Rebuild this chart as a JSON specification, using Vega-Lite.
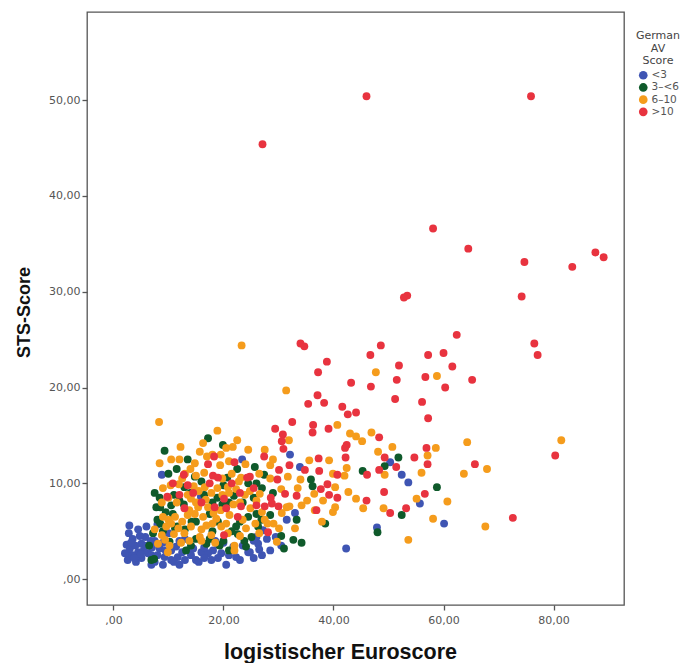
{
  "$schema": "https://vega.github.io/schema/vega-lite/v6.json",
  "width": 537,
  "height": 593,
  "autosize": {"type": "none"},
  "padding": {"left": 87, "top": 12, "right": 62, "bottom": 58},
  "background": "white",
  "config": {
    "view": {"stroke": "#555555", "strokeWidth": 1.3},
    "font": "DejaVu Sans"
  },
  "datasets": {
    "pts": [
      {"x":55.7,"y":7.9,"g":"<3"},{"x":60.1,"y":5.8,"g":"<3"},{"x":32.1,"y":13.0,"g":"<3"},{"x":50.3,"y":12.2,"g":"<3"},{"x":33.9,"y":11.7,"g":"<3"},{"x":52.4,"y":10.9,"g":"<3"},{"x":53.6,"y":10.1,"g":"<3"},{"x":33.0,"y":6.9,"g":"<3"},{"x":31.5,"y":6.2,"g":"<3"},{"x":27.2,"y":5.1,"g":"<3"},{"x":47.9,"y":5.4,"g":"<3"},{"x":26.0,"y":4.4,"g":"<3"},{"x":27.9,"y":4.2,"g":"<3"},{"x":24.8,"y":2.8,"g":"<3"},{"x":42.3,"y":3.2,"g":"<3"},{"x":23.4,"y":12.5,"g":"<3"},{"x":8.8,"y":10.9,"g":"<3"},{"x":15.9,"y":8.6,"g":"<3"},{"x":2.9,"y":5.6,"g":"<3"},{"x":6.0,"y":5.5,"g":"<3"},{"x":8.0,"y":5.7,"g":"<3"},{"x":3.5,"y":4.2,"g":"<3"},{"x":5.1,"y":3.7,"g":"<3"},{"x":26.3,"y":3.7,"g":"<3"},{"x":2.6,"y":2.7,"g":"<3"},{"x":4.5,"y":2.8,"g":"<3"},{"x":6.3,"y":2.7,"g":"<3"},{"x":8.4,"y":3.2,"g":"<3"},{"x":11.4,"y":3.4,"g":"<3"},{"x":13.5,"y":3.0,"g":"<3"},{"x":16.0,"y":2.8,"g":"<3"},{"x":18.1,"y":3.0,"g":"<3"},{"x":19.6,"y":2.7,"g":"<3"},{"x":24.5,"y":2.8,"g":"<3"},{"x":2.6,"y":2.0,"g":"<3"},{"x":4.1,"y":1.8,"g":"<3"},{"x":7.5,"y":1.8,"g":"<3"},{"x":9.3,"y":2.3,"g":"<3"},{"x":11.7,"y":2.3,"g":"<3"},{"x":14.1,"y":2.5,"g":"<3"},{"x":17.2,"y":2.7,"g":"<3"},{"x":22.3,"y":2.3,"g":"<3"},{"x":6.9,"y":1.5,"g":"<3"},{"x":20.5,"y":1.5,"g":"<3"},{"x":3.5,"y":2.5,"g":"<3"},{"x":2.1,"y":2.7,"g":"<3"},{"x":6.9,"y":2.5,"g":"<3"},{"x":5.1,"y":2.2,"g":"<3"},
      {"x":3.0,"y":3.2,"g":"<3"},{"x":4.0,"y":3.5,"g":"<3"},{"x":5.5,"y":3.0,"g":"<3"},{"x":7.0,"y":3.3,"g":"<3"},{"x":9.5,"y":3.0,"g":"<3"},{"x":10.5,"y":2.0,"g":"<3"},{"x":12.5,"y":2.8,"g":"<3"},{"x":15.0,"y":2.0,"g":"<3"},{"x":16.5,"y":3.3,"g":"<3"},{"x":19.0,"y":2.2,"g":"<3"},{"x":21.0,"y":2.5,"g":"<3"},{"x":23.5,"y":3.5,"g":"<3"},{"x":25.5,"y":2.2,"g":"<3"},{"x":28.5,"y":3.0,"g":"<3"},{"x":30.5,"y":3.5,"g":"<3"},{"x":5.8,"y":4.4,"g":"<3"},{"x":7.5,"y":4.0,"g":"<3"},{"x":10.0,"y":4.8,"g":"<3"},{"x":13.0,"y":4.2,"g":"<3"},{"x":18.5,"y":4.0,"g":"<3"},{"x":4.5,"y":5.2,"g":"<3"},{"x":12.0,"y":1.5,"g":"<3"},{"x":2.4,"y":3.6,"g":"<3"},{"x":9.0,"y":1.5,"g":"<3"},{"x":15.5,"y":1.8,"g":"<3"},{"x":20.0,"y":3.8,"g":"<3"},{"x":27.0,"y":2.5,"g":"<3"},
      {"x":3.8,"y":2.2,"g":"<3"},{"x":5.0,"y":2.6,"g":"<3"},{"x":6.0,"y":3.5,"g":"<3"},{"x":8.0,"y":2.5,"g":"<3"},{"x":9.0,"y":3.8,"g":"<3"},{"x":10.5,"y":3.0,"g":"<3"},{"x":11.0,"y":1.8,"g":"<3"},{"x":13.0,"y":2.0,"g":"<3"},{"x":14.5,"y":3.2,"g":"<3"},{"x":16.5,"y":2.2,"g":"<3"},{"x":17.8,"y":2.0,"g":"<3"},{"x":3.2,"y":3.8,"g":"<3"},{"x":4.8,"y":4.5,"g":"<3"},{"x":2.8,"y":4.8,"g":"<3"},{"x":6.8,"y":4.0,"g":"<3"},{"x":12.0,"y":4.0,"g":"<3"},{"x":19.0,"y":3.6,"g":"<3"},{"x":21.8,"y":3.4,"g":"<3"},{"x":23.0,"y":2.0,"g":"<3"},{"x":26.5,"y":3.1,"g":"<3"},{"x":29.5,"y":4.4,"g":"<3"},{"x":25.5,"y":4.0,"g":"<3"},
      {"x":58.8,"y":9.6,"g":"3–<6"},{"x":51.8,"y":12.7,"g":"3–<6"},{"x":49.3,"y":11.8,"g":"3–<6"},{"x":25.7,"y":11.7,"g":"3–<6"},{"x":27.4,"y":10.9,"g":"3–<6"},{"x":45.3,"y":11.3,"g":"3–<6"},{"x":35.9,"y":10.4,"g":"3–<6"},{"x":36.2,"y":9.7,"g":"3–<6"},{"x":52.4,"y":6.7,"g":"3–<6"},{"x":26.0,"y":6.8,"g":"3–<6"},{"x":28.5,"y":6.7,"g":"3–<6"},{"x":33.3,"y":6.2,"g":"3–<6"},{"x":26.9,"y":6.2,"g":"3–<6"},{"x":26.3,"y":5.5,"g":"3–<6"},{"x":38.5,"y":5.8,"g":"3–<6"},{"x":48.0,"y":4.9,"g":"3–<6"},{"x":32.7,"y":4.1,"g":"3–<6"},{"x":34.2,"y":3.8,"g":"3–<6"},{"x":17.2,"y":14.7,"g":"3–<6"},{"x":19.9,"y":14.0,"g":"3–<6"},{"x":9.3,"y":13.4,"g":"3–<6"},{"x":14.8,"y":10.7,"g":"3–<6"},{"x":20.7,"y":10.6,"g":"3–<6"},{"x":12.9,"y":9.6,"g":"3–<6"},{"x":24.5,"y":10.0,"g":"3–<6"},{"x":8.4,"y":8.5,"g":"3–<6"},{"x":18.9,"y":8.5,"g":"3–<6"},{"x":21.9,"y":8.7,"g":"3–<6"},{"x":7.8,"y":7.5,"g":"3–<6"},{"x":10.5,"y":7.7,"g":"3–<6"},{"x":24.5,"y":6.5,"g":"3–<6"},{"x":11.6,"y":5.5,"g":"3–<6"},{"x":22.3,"y":5.5,"g":"3–<6"},{"x":7.2,"y":4.8,"g":"3–<6"},{"x":22.6,"y":4.7,"g":"3–<6"},{"x":25.1,"y":4.4,"g":"3–<6"},{"x":10.2,"y":3.9,"g":"3–<6"},{"x":14.1,"y":3.5,"g":"3–<6"},{"x":16.9,"y":3.7,"g":"3–<6"},{"x":19.3,"y":3.5,"g":"3–<6"},{"x":24.1,"y":3.4,"g":"3–<6"},{"x":6.9,"y":2.0,"g":"3–<6"},{"x":7.4,"y":2.1,"g":"3–<6"},{"x":8.5,"y":7.5,"g":"3–<6"},{"x":11.2,"y":5.3,"g":"3–<6"},
      {"x":9.0,"y":5.0,"g":"3–<6"},{"x":10.8,"y":6.8,"g":"3–<6"},{"x":13.0,"y":5.2,"g":"3–<6"},{"x":15.0,"y":6.0,"g":"3–<6"},{"x":17.5,"y":6.8,"g":"3–<6"},{"x":19.8,"y":7.8,"g":"3–<6"},{"x":21.5,"y":5.0,"g":"3–<6"},{"x":23.0,"y":6.0,"g":"3–<6"},{"x":12.0,"y":8.2,"g":"3–<6"},{"x":14.0,"y":9.0,"g":"3–<6"},{"x":16.0,"y":10.2,"g":"3–<6"},{"x":18.0,"y":8.0,"g":"3–<6"},{"x":20.0,"y":9.8,"g":"3–<6"},{"x":22.5,"y":11.5,"g":"3–<6"},{"x":25.5,"y":8.5,"g":"3–<6"},{"x":27.0,"y":9.5,"g":"3–<6"},{"x":8.0,"y":6.2,"g":"3–<6"},{"x":6.5,"y":3.5,"g":"3–<6"},{"x":13.2,"y":3.0,"g":"3–<6"},{"x":15.0,"y":4.2,"g":"3–<6"},{"x":18.0,"y":5.0,"g":"3–<6"},{"x":21.0,"y":3.0,"g":"3–<6"},{"x":11.5,"y":11.5,"g":"3–<6"},{"x":29.0,"y":9.0,"g":"3–<6"},{"x":30.5,"y":4.5,"g":"3–<6"},{"x":31.0,"y":3.2,"g":"3–<6"},
      {"x":8.5,"y":5.8,"g":"3–<6"},{"x":9.5,"y":7.0,"g":"3–<6"},{"x":11.0,"y":8.8,"g":"3–<6"},{"x":12.8,"y":7.8,"g":"3–<6"},{"x":14.2,"y":6.0,"g":"3–<6"},{"x":16.5,"y":8.8,"g":"3–<6"},{"x":19.0,"y":6.0,"g":"3–<6"},{"x":21.0,"y":8.0,"g":"3–<6"},{"x":23.5,"y":8.0,"g":"3–<6"},{"x":26.0,"y":10.0,"g":"3–<6"},{"x":10.0,"y":11.0,"g":"3–<6"},{"x":13.5,"y":12.5,"g":"3–<6"},{"x":7.5,"y":9.0,"g":"3–<6"},{"x":17.5,"y":4.2,"g":"3–<6"},{"x":20.0,"y":4.0,"g":"3–<6"},{"x":23.8,"y":4.0,"g":"3–<6"},
      {"x":58.8,"y":21.2,"g":"6–10"},{"x":64.3,"y":14.3,"g":"6–10"},{"x":81.4,"y":14.5,"g":"6–10"},{"x":58.6,"y":13.7,"g":"6–10"},{"x":57.1,"y":12.9,"g":"6–10"},{"x":67.9,"y":11.5,"g":"6–10"},{"x":63.7,"y":11.0,"g":"6–10"},{"x":56.0,"y":11.1,"g":"6–10"},{"x":60.7,"y":8.1,"g":"6–10"},{"x":58.1,"y":6.3,"g":"6–10"},{"x":67.6,"y":5.5,"g":"6–10"},{"x":31.4,"y":19.7,"g":"6–10"},{"x":40.7,"y":16.1,"g":"6–10"},{"x":43.0,"y":15.2,"g":"6–10"},{"x":44.1,"y":14.9,"g":"6–10"},{"x":45.2,"y":14.4,"g":"6–10"},{"x":46.9,"y":15.3,"g":"6–10"},{"x":31.9,"y":14.5,"g":"6–10"},{"x":50.7,"y":13.8,"g":"6–10"},{"x":48.1,"y":13.3,"g":"6–10"},{"x":35.6,"y":12.4,"g":"6–10"},{"x":39.2,"y":12.4,"g":"6–10"},{"x":28.5,"y":11.9,"g":"6–10"},{"x":39.9,"y":11.0,"g":"6–10"},{"x":42.4,"y":11.6,"g":"6–10"},{"x":49.3,"y":10.9,"g":"6–10"},{"x":31.7,"y":10.7,"g":"6–10"},{"x":34.0,"y":10.4,"g":"6–10"},{"x":40.3,"y":9.6,"g":"6–10"},{"x":42.0,"y":10.8,"g":"6–10"},{"x":42.7,"y":9.1,"g":"6–10"},{"x":36.5,"y":8.9,"g":"6–10"},{"x":35.2,"y":8.2,"g":"6–10"},{"x":38.1,"y":8.2,"g":"6–10"},{"x":44.1,"y":8.4,"g":"6–10"},{"x":55.1,"y":8.4,"g":"6–10"},{"x":26.6,"y":8.9,"g":"6–10"},{"x":31.5,"y":7.5,"g":"6–10"},{"x":34.2,"y":7.7,"g":"6–10"},{"x":36.6,"y":7.2,"g":"6–10"},{"x":40.3,"y":7.5,"g":"6–10"},{"x":39.9,"y":7.0,"g":"6–10"},{"x":45.4,"y":7.4,"g":"6–10"},{"x":49.1,"y":7.4,"g":"6–10"},{"x":30.6,"y":6.9,"g":"6–10"},{"x":29.1,"y":5.8,"g":"6–10"},{"x":30.1,"y":5.3,"g":"6–10"},{"x":33.0,"y":5.3,"g":"6–10"},{"x":37.9,"y":6.0,"g":"6–10"},{"x":29.7,"y":3.9,"g":"6–10"},{"x":53.6,"y":4.1,"g":"6–10"},{"x":23.3,"y":24.4,"g":"6–10"},{"x":47.7,"y":21.6,"g":"6–10"},{"x":8.3,"y":16.4,"g":"6–10"},{"x":18.9,"y":15.5,"g":"6–10"},{"x":16.3,"y":14.2,"g":"6–10"},{"x":22.5,"y":14.5,"g":"6–10"},{"x":20.5,"y":13.7,"g":"6–10"},{"x":21.7,"y":13.8,"g":"6–10"},{"x":12.2,"y":13.8,"g":"6–10"},{"x":15.7,"y":13.3,"g":"6–10"},{"x":14.8,"y":12.1,"g":"6–10"},{"x":19.4,"y":11.9,"g":"6–10"},{"x":8.4,"y":12.1,"g":"6–10"},{"x":16.5,"y":11.1,"g":"6–10"},{"x":23.2,"y":10.6,"g":"6–10"},{"x":10.4,"y":9.8,"g":"6–10"},{"x":11.9,"y":9.9,"g":"6–10"},{"x":14.6,"y":9.7,"g":"6–10"},{"x":16.6,"y":9.6,"g":"6–10"},{"x":18.9,"y":9.5,"g":"6–10"},{"x":20.8,"y":9.6,"g":"6–10"},{"x":22.3,"y":9.4,"g":"6–10"},{"x":14.1,"y":8.4,"g":"6–10"},{"x":23.9,"y":8.8,"g":"6–10"},{"x":15.4,"y":7.5,"g":"6–10"},{"x":24.9,"y":7.4,"g":"6–10"},{"x":9.0,"y":6.5,"g":"6–10"},{"x":11.2,"y":6.5,"g":"6–10"},{"x":13.5,"y":6.7,"g":"6–10"},{"x":16.3,"y":6.5,"g":"6–10"},{"x":18.7,"y":6.3,"g":"6–10"},{"x":21.1,"y":6.7,"g":"6–10"},{"x":27.5,"y":6.2,"g":"6–10"},{"x":9.6,"y":5.5,"g":"6–10"},{"x":14.1,"y":5.5,"g":"6–10"},{"x":16.9,"y":5.6,"g":"6–10"},{"x":19.6,"y":5.5,"g":"6–10"},{"x":24.1,"y":5.3,"g":"6–10"},{"x":8.8,"y":4.6,"g":"6–10"},{"x":11.0,"y":4.7,"g":"6–10"},{"x":12.9,"y":4.8,"g":"6–10"},{"x":15.7,"y":4.4,"g":"6–10"},{"x":17.8,"y":4.6,"g":"6–10"},{"x":8.1,"y":3.7,"g":"6–10"},{"x":12.3,"y":3.8,"g":"6–10"},{"x":22.0,"y":3.5,"g":"6–10"},{"x":9.9,"y":2.8,"g":"6–10"},{"x":22.0,"y":3.0,"g":"6–10"},{"x":10.0,"y":6.2,"g":"6–10"},{"x":9.4,"y":4.1,"g":"6–10"},
      {"x":10.5,"y":5.8,"g":"6–10"},{"x":12.5,"y":6.0,"g":"6–10"},{"x":14.8,"y":6.8,"g":"6–10"},{"x":17.2,"y":7.5,"g":"6–10"},{"x":19.5,"y":7.2,"g":"6–10"},{"x":21.8,"y":7.8,"g":"6–10"},{"x":23.5,"y":6.2,"g":"6–10"},{"x":25.8,"y":5.8,"g":"6–10"},{"x":11.5,"y":8.0,"g":"6–10"},{"x":13.5,"y":8.8,"g":"6–10"},{"x":15.5,"y":9.2,"g":"6–10"},{"x":17.8,"y":9.0,"g":"6–10"},{"x":19.8,"y":10.5,"g":"6–10"},{"x":21.5,"y":11.0,"g":"6–10"},{"x":24.0,"y":12.0,"g":"6–10"},{"x":26.5,"y":11.0,"g":"6–10"},{"x":13.0,"y":11.0,"g":"6–10"},{"x":10.5,"y":12.5,"g":"6–10"},{"x":15.0,"y":10.8,"g":"6–10"},{"x":18.0,"y":13.0,"g":"6–10"},{"x":24.5,"y":13.5,"g":"6–10"},{"x":8.8,"y":8.0,"g":"6–10"},{"x":7.5,"y":5.2,"g":"6–10"},{"x":16.0,"y":4.0,"g":"6–10"},{"x":18.5,"y":3.8,"g":"6–10"},{"x":20.5,"y":5.8,"g":"6–10"},{"x":23.0,"y":4.5,"g":"6–10"},{"x":26.5,"y":4.8,"g":"6–10"},{"x":28.0,"y":5.8,"g":"6–10"},{"x":32.0,"y":7.6,"g":"6–10"},{"x":33.5,"y":9.5,"g":"6–10"},{"x":29.0,"y":12.5,"g":"6–10"},{"x":27.5,"y":13.5,"g":"6–10"},{"x":30.5,"y":9.4,"g":"6–10"},
      {"x":9.0,"y":9.5,"g":"6–10"},{"x":10.0,"y":8.5,"g":"6–10"},{"x":12.5,"y":10.5,"g":"6–10"},{"x":13.8,"y":7.2,"g":"6–10"},{"x":15.0,"y":8.0,"g":"6–10"},{"x":16.8,"y":8.3,"g":"6–10"},{"x":18.2,"y":6.9,"g":"6–10"},{"x":19.8,"y":8.8,"g":"6–10"},{"x":21.0,"y":9.0,"g":"6–10"},{"x":22.8,"y":10.2,"g":"6–10"},{"x":23.0,"y":8.0,"g":"6–10"},{"x":24.8,"y":9.2,"g":"6–10"},{"x":26.0,"y":8.2,"g":"6–10"},{"x":27.0,"y":7.0,"g":"6–10"},{"x":28.5,"y":10.5,"g":"6–10"},{"x":12.0,"y":12.5,"g":"6–10"},{"x":14.0,"y":11.5,"g":"6–10"},{"x":17.0,"y":12.8,"g":"6–10"},{"x":19.5,"y":13.0,"g":"6–10"},{"x":21.0,"y":12.3,"g":"6–10"},{"x":16.0,"y":5.2,"g":"6–10"},{"x":18.0,"y":5.8,"g":"6–10"},{"x":13.8,"y":4.0,"g":"6–10"},{"x":11.8,"y":5.3,"g":"6–10"},{"x":20.8,"y":4.8,"g":"6–10"},{"x":10.2,"y":3.5,"g":"6–10"},
      {"x":46.0,"y":50.4,"g":">10"},{"x":75.9,"y":50.4,"g":">10"},{"x":27.1,"y":45.4,"g":">10"},{"x":58.1,"y":36.6,"g":">10"},{"x":64.5,"y":34.5,"g":">10"},{"x":74.7,"y":33.1,"g":">10"},{"x":87.6,"y":34.1,"g":">10"},{"x":89.1,"y":33.6,"g":">10"},{"x":83.4,"y":32.6,"g":">10"},{"x":53.4,"y":29.6,"g":">10"},{"x":52.8,"y":29.4,"g":">10"},{"x":74.2,"y":29.5,"g":">10"},{"x":62.4,"y":25.5,"g":">10"},{"x":76.5,"y":24.6,"g":">10"},{"x":77.1,"y":23.4,"g":">10"},{"x":57.2,"y":23.4,"g":">10"},{"x":60.0,"y":23.6,"g":">10"},{"x":61.6,"y":22.2,"g":">10"},{"x":56.7,"y":21.1,"g":">10"},{"x":65.2,"y":20.8,"g":">10"},{"x":60.3,"y":20.0,"g":">10"},{"x":56.1,"y":18.5,"g":">10"},{"x":57.2,"y":16.8,"g":">10"},{"x":80.3,"y":12.9,"g":">10"},{"x":56.9,"y":13.7,"g":">10"},{"x":57.1,"y":12.0,"g":">10"},{"x":65.7,"y":12.0,"g":">10"},{"x":56.6,"y":8.9,"g":">10"},{"x":72.6,"y":6.4,"g":">10"},{"x":46.8,"y":20.1,"g":">10"},{"x":51.5,"y":20.8,"g":">10"},{"x":37.1,"y":19.2,"g":">10"},{"x":35.4,"y":18.3,"g":">10"},{"x":38.3,"y":18.4,"g":">10"},{"x":51.2,"y":18.8,"g":">10"},{"x":41.6,"y":18.0,"g":">10"},{"x":42.6,"y":17.2,"g":">10"},{"x":44.1,"y":17.4,"g":">10"},{"x":32.5,"y":16.4,"g":">10"},{"x":29.4,"y":15.7,"g":">10"},{"x":36.3,"y":16.1,"g":">10"},{"x":36.2,"y":15.3,"g":">10"},{"x":39.1,"y":15.7,"g":">10"},{"x":30.8,"y":15.1,"g":">10"},{"x":48.3,"y":14.8,"g":">10"},{"x":30.6,"y":14.4,"g":">10"},{"x":30.9,"y":13.6,"g":">10"},{"x":42.4,"y":14.0,"g":">10"},{"x":42.1,"y":13.7,"g":">10"},{"x":49.3,"y":12.7,"g":">10"},{"x":54.7,"y":12.7,"g":">10"},{"x":27.4,"y":12.8,"g":">10"},{"x":37.3,"y":12.6,"g":">10"},{"x":42.2,"y":12.7,"g":">10"},{"x":51.4,"y":11.7,"g":">10"},{"x":30.1,"y":11.4,"g":">10"},{"x":32.0,"y":11.9,"g":">10"},{"x":34.8,"y":11.4,"g":">10"},{"x":37.4,"y":11.3,"g":">10"},{"x":40.7,"y":10.9,"g":">10"},{"x":46.1,"y":10.9,"g":">10"},{"x":48.3,"y":11.4,"g":">10"},{"x":24.8,"y":10.7,"g":">10"},{"x":29.8,"y":10.4,"g":">10"},{"x":37.7,"y":9.4,"g":">10"},{"x":38.9,"y":9.9,"g":">10"},{"x":39.2,"y":8.8,"g":">10"},{"x":40.7,"y":8.5,"g":">10"},{"x":46.0,"y":8.2,"g":">10"},{"x":49.2,"y":9.1,"g":">10"},{"x":28.6,"y":8.5,"g":">10"},{"x":31.2,"y":8.9,"g":">10"},{"x":33.3,"y":8.7,"g":">10"},{"x":26.0,"y":7.7,"g":">10"},{"x":27.5,"y":7.6,"g":">10"},{"x":28.8,"y":7.9,"g":">10"},{"x":30.0,"y":7.6,"g":">10"},{"x":36.9,"y":7.2,"g":">10"},{"x":50.3,"y":6.9,"g":">10"},{"x":53.2,"y":7.4,"g":">10"},{"x":28.1,"y":4.9,"g":">10"},{"x":18.3,"y":12.8,"g":">10"},{"x":17.2,"y":12.0,"g":">10"},{"x":12.8,"y":10.9,"g":">10"},{"x":18.1,"y":10.8,"g":">10"},{"x":19.0,"y":10.6,"g":">10"},{"x":24.3,"y":10.6,"g":">10"},{"x":9.8,"y":8.6,"g":">10"},{"x":12.0,"y":8.8,"g":">10"},{"x":20.1,"y":8.4,"g":">10"},{"x":12.9,"y":7.4,"g":">10"},{"x":18.4,"y":7.5,"g":">10"},{"x":20.5,"y":7.4,"g":">10"},{"x":23.2,"y":7.6,"g":">10"},{"x":22.6,"y":6.5,"g":">10"},{"x":20.1,"y":4.6,"g":">10"},{"x":34.0,"y":24.6,"g":">10"},{"x":34.7,"y":24.3,"g":">10"},{"x":38.8,"y":22.7,"g":">10"},{"x":37.2,"y":21.6,"g":">10"},{"x":46.7,"y":23.4,"g":">10"},{"x":48.6,"y":24.4,"g":">10"},{"x":51.9,"y":22.3,"g":">10"},{"x":43.2,"y":20.5,"g":">10"},
      {"x":14.5,"y":9.0,"g":">10"},{"x":16.0,"y":8.0,"g":">10"},{"x":21.5,"y":10.0,"g":">10"},{"x":10.8,"y":10.0,"g":">10"},{"x":25.5,"y":9.5,"g":">10"},{"x":22.0,"y":12.2,"g":">10"},{"x":13.5,"y":9.8,"g":">10"},{"x":17.5,"y":10.0,"g":">10"},{"x":23.0,"y":9.0,"g":">10"}
    ]
  },
  "data": {"name": "pts"},
  "mark": {"type": "circle", "size": 62, "opacity": 1},
  "encoding": {
    "x": {
      "field": "x",
      "type": "quantitative",
      "scale": {"domain": [-4.8, 92.8], "nice": false, "zero": false},
      "axis": {
        "values": [0, 20, 40, 60, 80],
        "labelExpr": "datum.value == 0 ? ',00' : replace(format(datum.value, '.2f'), '.', ',')",
        "grid": false,
        "domain": false,
        "ticks": true,
        "tickSize": 5,
        "tickColor": "#555555",
        "tickWidth": 1.3,
        "labelFont": "DejaVu Sans",
        "labelFontSize": 11,
        "labelColor": "#555555",
        "labelPadding": 4,
        "title": "logistischer Euroscore",
        "titleFont": "Liberation Sans",
        "titleFontSize": 21.5,
        "titleFontWeight": "bold",
        "titleColor": "#111111",
        "titleX": 253,
        "titleY": 53,
        "titleBaseline": "alphabetic",
        "titleAnchor": "middle",
        "titleAlign": "center"
      }
    },
    "y": {
      "field": "y",
      "type": "quantitative",
      "scale": {"domain": [-2.7, 59.2], "nice": false, "zero": false},
      "axis": {
        "values": [0, 10, 20, 30, 40, 50],
        "labelExpr": "datum.value == 0 ? ',00' : replace(format(datum.value, '.2f'), '.', ',')",
        "grid": false,
        "domain": false,
        "ticks": true,
        "tickSize": 5,
        "tickColor": "#555555",
        "tickWidth": 1.3,
        "labelFont": "DejaVu Sans",
        "labelFontSize": 11,
        "labelColor": "#555555",
        "labelPadding": 2,
        "title": "STS-Score",
        "titleFont": "Liberation Sans",
        "titleFontSize": 18,
        "titleFontWeight": "bold",
        "titleColor": "#111111",
        "titleX": -58,
        "titleY": 300,
        "titleAngle": -90,
        "titleBaseline": "alphabetic",
        "titleAlign": "center"
      }
    },
    "color": {
      "field": "g",
      "type": "nominal",
      "scale": {
        "domain": ["<3", "3–<6", "6–10", ">10"],
        "range": ["#3f55b3", "#0f5a2b", "#f59c1c", "#e8333f"]
      },
      "legend": {
        "orient": "none",
        "legendX": 549,
        "legendY": 18,
        "padding": 0,
        "title": ["German", "AV", "Score"],
        "titleFont": "DejaVu Sans",
        "titleFontSize": 11,
        "titleFontWeight": "normal",
        "titleColor": "#444444",
        "titleLineHeight": 12.5,
        "titleAnchor": "middle",
        "titleAlign": "center",
        "titlePadding": 4,
        "labelFont": "DejaVu Sans",
        "labelFontSize": 10.5,
        "labelColor": "#555555",
        "labelOffset": 3,
        "symbolType": "circle",
        "symbolSize": 75,
        "symbolStrokeWidth": 0,
        "rowPadding": 1.2
      }
    }
  }
}
